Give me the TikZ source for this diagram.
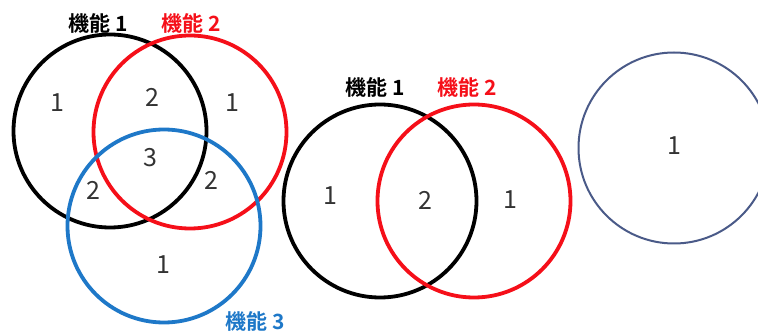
\documentclass[tikz,border=0pt]{standalone}
\usepackage{fontspec}
\setmainfont{Noto Sans CJK JP}
\newfontfamily\jpbold[BoldFont={* Bold}]{Noto Sans CJK JP}
\definecolor{cred}{HTML}{F50F19}
\definecolor{cblue}{HTML}{1E78C8}
\definecolor{cslate}{HTML}{4A5A88}
\definecolor{cnum}{HTML}{333333}
\begin{document}
\begin{tikzpicture}[x=1pt,y=-1pt,
  ring/.style={draw, line width=3.8pt, circle, minimum size=193pt, inner sep=0pt},
  thin ring/.style={draw=cslate, line width=2pt, circle, minimum size=191pt, inner sep=0pt},
  num/.style={text=cnum, font=\fontsize{25}{25}\selectfont, inner sep=0pt},
  lab/.style={font=\jpbold\bfseries\fontsize{21}{21}\selectfont, inner sep=0pt}]
\useasboundingbox (0,0) rectangle (758,331);
\clip (0,0) rectangle (758,331);
% group 1
\node[ring, draw=black] (a1) at (110,131) {};
\node[ring, draw=cred] (a2) at (190,132) {};
\node[ring, draw=cblue] (a3) at (164,226) {};
\node[lab] (la1) at (98,23) {機能 1};
\node[lab, text=cred] (la2) at (191,23) {機能 2};
\node[lab, text=cblue] (la3) at (255,321) {機能 3};
\node[num] (n1) at (57,103) {1};
\node[num] (n2) at (152,97) {2};
\node[num] (n3) at (232,103) {1};
\node[num] (n4) at (150,158) {3};
\node[num] (n5) at (93,190) {2};
\node[num] (n6) at (211,180) {2};
\node[num] (n7) at (163,265) {1};
% group 2
\node[ring, draw=black] (b1) at (380,201) {};
\node[ring, draw=cred] (b2) at (474,201) {};
\node[lab] (lb1) at (375,87) {機能 1};
\node[lab, text=cred] (lb2) at (467,87) {機能 2};
\node[num] (m1) at (330,196) {1};
\node[num] (m2) at (425,200) {2};
\node[num] (m3) at (510,200) {1};
% group 3
\node[thin ring] (c1) at (674,148) {};
\node[num] (k1) at (674,146) {1};
\end{tikzpicture}
\end{document}
